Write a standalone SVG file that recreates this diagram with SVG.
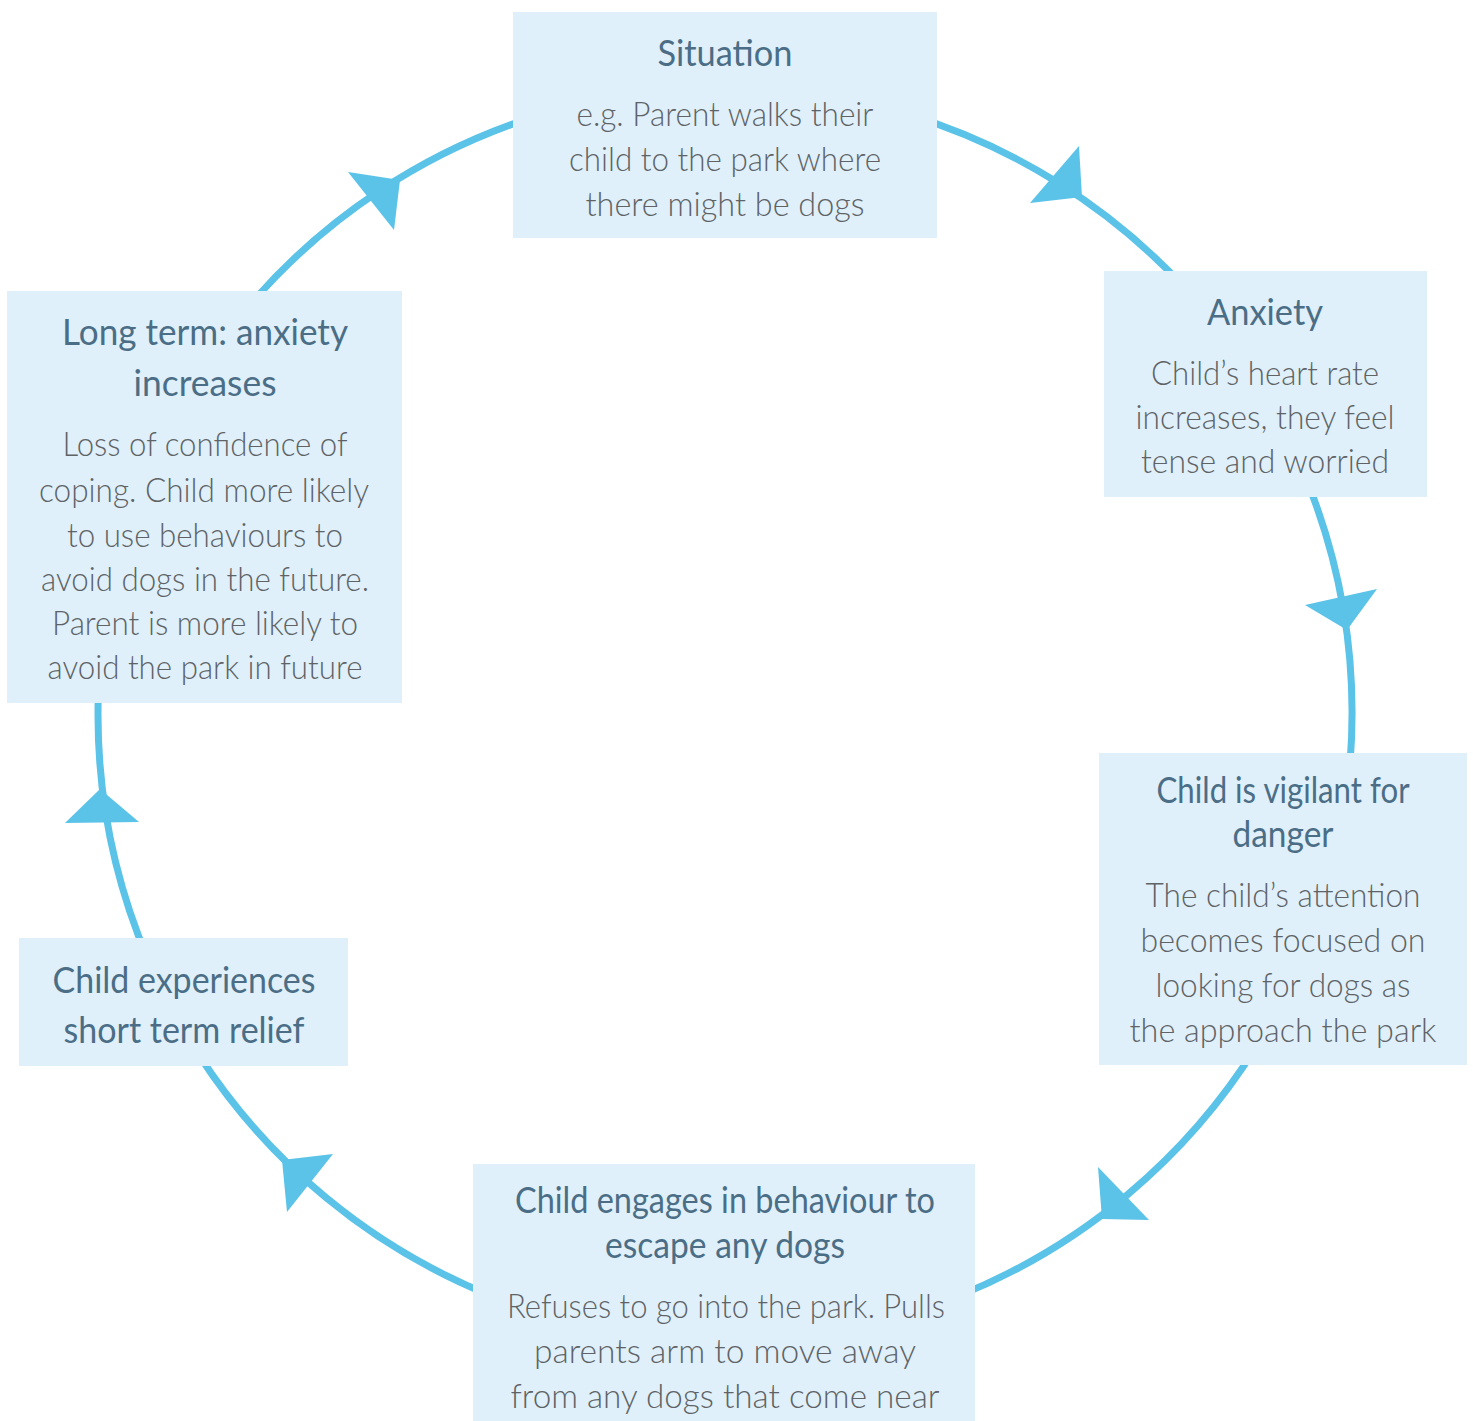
<svg xmlns="http://www.w3.org/2000/svg" width="1473" height="1421" viewBox="0 0 1473 1421">
<style>
.box{fill:#dff0fb}
.arc{fill:none;stroke:#5bc2e8;stroke-width:7}
.head{fill:#5bc2e8}
.t{font-family:Lato,"Open Sans","Liberation Sans",sans-serif;font-size:37px;fill:#4b6e86;text-anchor:middle}
.b{font-family:Lato,"Open Sans","Liberation Sans",sans-serif;font-weight:300;font-size:33px;fill:#606366;text-anchor:middle}
</style>
<rect width="1473" height="1421" fill="#ffffff"/>
<g id="connectors">
<path class="arc" d="M908.3,114.4 A627,627 0 0 1 1183.6,286.4"/>
<path class="arc" d="M1306.3,479.1 A627,627 0 0 1 1349.6,768.7"/>
<path class="arc" d="M1256.7,1046.2 A627,627 0 0 1 959.9,1295.3"/>
<path class="arc" d="M490.1,1295.3 A627,627 0 0 1 199.2,1055.5"/>
<path class="arc" d="M147.8,959 A627,627 0 0 1 98.4,692.1"/>
<path class="arc" d="M244.7,311 A627,627 0 0 1 541.7,114.4"/>
<polygon class="head" points="1030,203 1079,146 1082,197"/>
<polygon class="head" points="1305,605 1377,589 1347,630"/>
<polygon class="head" points="1098,1167 1149,1220 1102,1219"/>
<polygon class="head" points="333,1154 287,1212 282,1160"/>
<polygon class="head" points="65,823 139,822 100,789"/>
<polygon class="head" points="348,172 394,230 400,180"/>
</g>
<g id="situation">
<rect class="box" x="513" y="12" width="424" height="226"/>
<text class="t" x="725" y="66" textLength="135" lengthAdjust="spacingAndGlyphs">Situation</text>
<text class="b" x="725" y="126" textLength="297" lengthAdjust="spacingAndGlyphs">e.g. Parent walks their</text>
<text class="b" x="725" y="171" textLength="312" lengthAdjust="spacingAndGlyphs">child to the park where</text>
<text class="b" x="725" y="216" textLength="279" lengthAdjust="spacingAndGlyphs">there might be dogs</text>
</g>
<g id="anxiety">
<rect class="box" x="1104" y="271" width="323" height="226"/>
<text class="t" x="1265" y="325" textLength="116" lengthAdjust="spacingAndGlyphs">Anxiety</text>
<text class="b" x="1265" y="385" textLength="228" lengthAdjust="spacingAndGlyphs">Child’s heart rate</text>
<text class="b" x="1265" y="429" textLength="259" lengthAdjust="spacingAndGlyphs">increases, they feel</text>
<text class="b" x="1265" y="473" textLength="248" lengthAdjust="spacingAndGlyphs">tense and worried</text>
</g>
<g id="vigilant">
<rect class="box" x="1099" y="753" width="368" height="312"/>
<text class="t" x="1283" y="803" textLength="253" lengthAdjust="spacingAndGlyphs">Child is vigilant for</text>
<text class="t" x="1283" y="847" textLength="101" lengthAdjust="spacingAndGlyphs">danger</text>
<text class="b" x="1283" y="907" textLength="275" lengthAdjust="spacingAndGlyphs">The child’s attention</text>
<text class="b" x="1283" y="952" textLength="285" lengthAdjust="spacingAndGlyphs">becomes focused on</text>
<text class="b" x="1283" y="997" textLength="255" lengthAdjust="spacingAndGlyphs">looking for dogs as</text>
<text class="b" x="1283" y="1042" textLength="307" lengthAdjust="spacingAndGlyphs">the approach the park</text>
</g>
<g id="escape">
<rect class="box" x="473" y="1164" width="502" height="257"/>
<text class="t" x="725" y="1213" textLength="420" lengthAdjust="spacingAndGlyphs">Child engages in behaviour to</text>
<text class="t" x="725" y="1258" textLength="240" lengthAdjust="spacingAndGlyphs">escape any dogs</text>
<text class="b" x="726" y="1318" textLength="438" lengthAdjust="spacingAndGlyphs">Refuses to go into the park. Pulls</text>
<text class="b" x="725" y="1363" textLength="382" lengthAdjust="spacingAndGlyphs">parents arm to move away</text>
<text class="b" x="725" y="1408" textLength="429" lengthAdjust="spacingAndGlyphs">from any dogs that come near</text>
</g>
<g id="relief">
<rect class="box" x="19" y="938" width="329" height="128"/>
<text class="t" x="184" y="993" textLength="263" lengthAdjust="spacingAndGlyphs">Child experiences</text>
<text class="t" x="184" y="1043" textLength="241" lengthAdjust="spacingAndGlyphs">short term relief</text>
</g>
<g id="longterm">
<rect class="box" x="7" y="291" width="395" height="412"/>
<text class="t" x="205" y="345" textLength="286" lengthAdjust="spacingAndGlyphs">Long term: anxiety</text>
<text class="t" x="205" y="396" textLength="143" lengthAdjust="spacingAndGlyphs">increases</text>
<text class="b" x="205" y="456" textLength="285" lengthAdjust="spacingAndGlyphs">Loss of confidence of</text>
<text class="b" x="204" y="502" textLength="330" lengthAdjust="spacingAndGlyphs">coping. Child more likely</text>
<text class="b" x="205" y="547" textLength="276" lengthAdjust="spacingAndGlyphs">to use behaviours to</text>
<text class="b" x="205" y="591" textLength="328" lengthAdjust="spacingAndGlyphs">avoid dogs in the future.</text>
<text class="b" x="205" y="635" textLength="306" lengthAdjust="spacingAndGlyphs">Parent is more likely to</text>
<text class="b" x="205" y="679" textLength="315" lengthAdjust="spacingAndGlyphs">avoid the park in future</text>
</g>
</svg>
